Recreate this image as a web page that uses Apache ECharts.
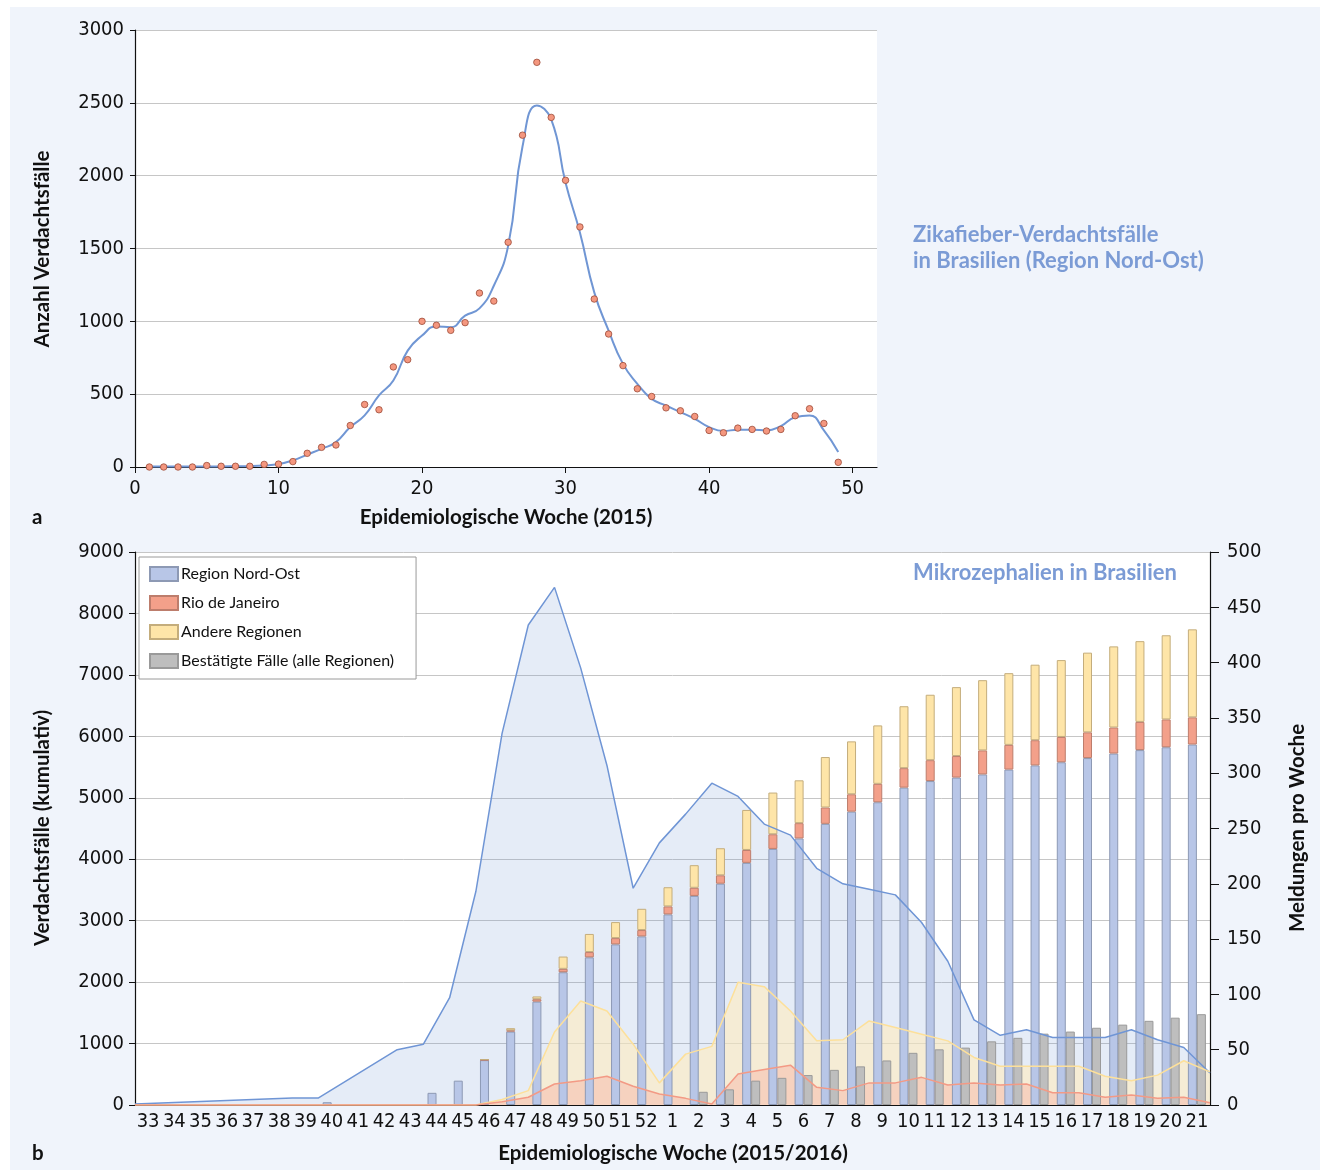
<!DOCTYPE html>
<html><head><meta charset="utf-8">
<script src="https://cdn.jsdelivr.net/npm/echarts@6/dist/echarts.min.js"></script>
<style>
html,body{margin:0;padding:0;background:#fff;}
#bg{position:absolute;left:10px;top:7px;width:1310px;height:1163px;background:#f0f4fb;}
#c{position:absolute;left:0;top:0;width:1327px;height:1170px;}
</style>
</head><body><div id="bg"></div><div id="c"></div>
<script>
// ---- Panel a: Zika suspected cases, Region Nord-Ost, 2015 ----
const zikaWeeks = [1,2,3,4,5,6,7,8,9,10,11,12,13,14,15,16,17,18,19,20,21,22,23,24,25,26,27,28,29,30,31,32,33,34,35,36,37,38,39,40,41,42,43,44,45,46,47,48,49];
const zikaCases = [0,0,0,0,10,5,5,5,18,20,37,94,135,151,285,429,393,687,737,1000,973,938,991,1194,1139,1543,2278,2778,2400,1968,1648,1153,913,696,537,484,406,386,347,251,235,267,258,247,258,352,400,299,32];
const zikaTrend = [3,3,3,3,4,4,5,6,10,20,45,85,125,171,274,354,491,594,799,902,965,960,1039,1089,1244,1518,2200,2482,2386,1952,1610,1199,936,708,571,468,422,377,331,274,247,256,256,251,281,342,354,251,103];
const zikaTicks = [0,10,20,30,40,50];

// ---- Panel b: microcephaly ----
const weekLabels = ['33','34','35','36','37','38','39','40','41','42','43','44','45','46','47','48','49','50','51','52','1','2','3','4','5','6','7','8','9','10','11','12','13','14','15','16','17','18','19','20','21'];
// cumulative (left axis)
const cumNordOst = [null,null,null,null,null,null,null,45,null,null,null,198,396,730,1195,1682,2160,2403,2614,2744,3102,3403,3602,3941,4168,4338,4576,4774,4927,5165,5272,5329,5380,5459,5527,5578,5646,5720,5776,5822,5867];
const cumRio     = [null,null,null,null,null,null,null,null,null,null,null,null,null,5,20,40,56,86,102,103,130,132,136,210,238,249,266,283,300,317,340,350,391,402,410,412,419,424,459,453,442];
const cumAndere  = [null,null,null,null,null,null,null,null,null,null,null,null,null,10,35,45,200,295,261,346,312,368,441,651,679,697,821,861,951,1008,1065,1122,1143,1167,1229,1251,1297,1320,1314,1370,1432];
const cumBestaetigt = [null,null,null,null,null,null,null,null,null,null,null,null,null,null,null,null,null,null,null,null,null,215,255,396,442,487,572,629,725,849,906,934,1036,1093,1161,1195,1257,1308,1370,1421,1478];
// reports per week (right axis); first value = position on the week grid (week boundary index)
const weeklyNordOst = [[0,1],[6,6.4],[7,6.4],[10,50],[11,55],[12,97],[13,193],[14,336],[15,434],[16,468],[17,395],[18,307],[19,196],[20,237],[21,263],[22,291],[23,279],[24,254],[25,244],[26,214],[27,200],[28,195],[29,190],[30,165],[31,130],[32,77],[33,63],[34,68],[35,61],[36,61],[37,61],[38,68],[39,59],[40,52],[41,29]];
const weeklyAndere  = [[0,0],[13,0],[14,5],[15,13],[16,66],[17,94],[18,85],[19,55],[20,20],[21,46],[22,53],[23,111],[24,107],[25,85],[26,58],[27,59],[28,76],[29,70],[30,64],[31,58],[32,43],[33,35],[34,35],[35,35],[36,35],[37,26],[38,22],[39,27],[40,40],[41,30]];
const weeklyRio     = [[0,0],[13,0],[14,3],[15,7],[16,19],[17,22],[18,26],[19,17],[20,10],[21,6],[22,1],[23,28],[24,32],[25,36],[26,16],[27,13],[28,20],[29,20],[30,25],[31,18],[32,20],[33,18],[34,19],[35,11],[36,11],[37,7],[38,9],[39,6],[40,7],[41,2]];

const tickFont = "'Liberation Sans Narrow','DejaVu Sans Condensed',sans-serif";
const titleFont = "Lato,'Noto Sans',sans-serif";
const gridLine = {show:true, lineStyle:{color:'#c6c6c6', width:1}};
const axisLineBlack = {show:true, lineStyle:{color:'#111', width:1.2}};
const plain = v => String(v);

const chart = echarts.init(document.getElementById('c'), null, {renderer:'canvas'});

function txt(x, y, text, opt) {
  return Object.assign({type:'text', x:x, y:y, style:Object.assign({text:text, fill:'#111', font:'bold 20.5px ' + titleFont, textAlign:'center', textVerticalAlign:'middle'}, (opt && opt.style) || {})}, (opt && opt.el) || {});
}
const blueTitle = {textAlign:'left', fill:'#7b9bd5', font:'bold 22px ' + titleFont};

chart.setOption({
  animation:false,
  backgroundColor:'transparent',
  grid:[
    {left:135, top:30, width:742, height:437, show:true, backgroundColor:'#fff', borderWidth:0},
    {left:135, top:552, width:1075, height:553, show:true, backgroundColor:'#fff', borderWidth:0}
  ],
  xAxis:[
    {gridIndex:0, type:'value', min:0, max:51.7,
      axisLine:axisLineBlack, splitLine:{show:false},
      axisTick:{show:true, inside:false, length:6, lineStyle:{color:'#111'}, customValues:zikaTicks},
      axisLabel:{customValues:zikaTicks, formatter:plain, color:'#111', fontSize:20, fontFamily:tickFont, margin:12}},
    {gridIndex:1, type:'category', data:weekLabels, boundaryGap:true,
      axisLine:axisLineBlack, axisTick:{show:false},
      axisLabel:{interval:0, color:'#111', fontSize:20, fontFamily:tickFont, margin:7}},
    {gridIndex:1, type:'value', min:0, max:41, show:false}
  ],
  yAxis:[
    {gridIndex:0, type:'value', min:0, max:3000, interval:500,
      axisLine:axisLineBlack, axisTick:{show:true, length:5, lineStyle:{color:'#111'}},
      splitLine:gridLine, axisLabel:{formatter:plain, color:'#111', fontSize:20, fontFamily:tickFont, margin:11}},
    {gridIndex:1, type:'value', min:0, max:9000, interval:1000, position:'left',
      axisLine:axisLineBlack, axisTick:{show:true, length:6, lineStyle:{color:'#111'}},
      splitLine:gridLine, axisLabel:{formatter:plain, color:'#111', fontSize:20, fontFamily:tickFont, margin:11}},
    {gridIndex:1, type:'value', min:0, max:500, interval:50, position:'right',
      axisLine:axisLineBlack, axisTick:{show:true, length:9, lineStyle:{color:'#111'}},
      splitLine:{show:false}, axisLabel:{formatter:plain, color:'#111', fontSize:20, fontFamily:tickFont, margin:17}}
  ],
  legend:{
    orient:'vertical', left:139, top:557, selectedMode:false,
    data:['Region Nord-Ost','Rio de Janeiro','Andere Regionen','Bestätigte Fälle (alle Regionen)'],
    itemWidth:28, itemHeight:14, itemGap:11, icon:'rect',
    backgroundColor:'#fff', borderColor:'#9a9a9a', borderWidth:1, borderRadius:0,
    padding:[8,22,9,10],
    textStyle:{fontSize:16, fontFamily:titleFont, color:'#111', lineHeight:18, padding:[0,0,0,-2]}
  },
  graphic:[
    txt(913, 235, 'Zikafieber-Verdachtsfälle', {style:blueTitle}),
    txt(913, 261, 'in Brasilien (Region Nord-Ost)', {style:blueTitle}),
    txt(913, 573, 'Mikrozephalien in Brasilien', {style:blueTitle}),
    txt(42, 249, 'Anzahl Verdachtsfälle', {el:{rotation:Math.PI/2}}),
    txt(506, 517, 'Epidemiologische Woche (2015)'),
    txt(32, 517, 'a', {style:{textAlign:'left'}}),
    txt(42, 828, 'Verdachtsfälle (kumulativ)', {el:{rotation:Math.PI/2}}),
    txt(1297, 828, 'Meldungen pro Woche', {el:{rotation:Math.PI/2}}),
    txt(673, 1153, 'Epidemiologische Woche (2015/2016)'),
    txt(32, 1153, 'b', {style:{textAlign:'left'}})
  ],
  series:[
    {type:'line', xAxisIndex:0, yAxisIndex:0, data:zikaWeeks.map((w,i)=>[w, zikaTrend[i]]),
      smooth:0.5, showSymbol:false, lineStyle:{color:'#7096d4', width:2}, z:3, silent:true},
    {type:'scatter', xAxisIndex:0, yAxisIndex:0, data:zikaWeeks.map((w,i)=>[w, zikaCases[i]]),
      symbolSize:6.5, itemStyle:{color:'#f4977f', borderColor:'#9c4b38', borderWidth:0.8, opacity:1}, z:4, silent:true},

    // weekly report areas (behind bars)
    {type:'line', xAxisIndex:2, yAxisIndex:2, data:weeklyNordOst, showSymbol:false,
      lineStyle:{width:0, opacity:0}, areaStyle:{color:'rgba(112,150,212,0.18)', opacity:1}, z:1, silent:true},
    {type:'line', xAxisIndex:2, yAxisIndex:2, data:weeklyAndere, showSymbol:false,
      lineStyle:{width:0, opacity:0}, areaStyle:{color:'rgba(255,237,190,0.6)', opacity:1}, z:1, silent:true},
    {type:'line', xAxisIndex:2, yAxisIndex:2, data:weeklyRio, showSymbol:false,
      lineStyle:{width:0, opacity:0}, areaStyle:{color:'rgba(248,180,165,0.45)', opacity:1}, z:1, silent:true},

    // cumulative bars
    {name:'Region Nord-Ost', type:'bar', xAxisIndex:1, yAxisIndex:1, stack:'cum', barWidth:9, barGap:'0%',
      data:cumNordOst, itemStyle:{color:'#b8c6e7', borderColor:'#8d99b4', borderWidth:1}, z:2},
    {name:'Rio de Janeiro', type:'bar', xAxisIndex:1, yAxisIndex:1, stack:'cum', barWidth:9, barGap:'0%',
      data:cumRio, itemStyle:{color:'#f3a08a', borderColor:'#bd7d6c', borderWidth:1}, z:2},
    {name:'Andere Regionen', type:'bar', xAxisIndex:1, yAxisIndex:1, stack:'cum', barWidth:9, barGap:'0%',
      data:cumAndere, itemStyle:{color:'#fee5a8', borderColor:'#c4ad7c', borderWidth:1}, z:2},
    {name:'Bestätigte Fälle (alle Regionen)', type:'bar', xAxisIndex:1, yAxisIndex:1, barWidth:9, barGap:'0%',
      data:cumBestaetigt, itemStyle:{color:'#bebebe', borderColor:'#9a9a9a', borderWidth:1}, z:2},

    // weekly report lines (above bars)
    {type:'line', xAxisIndex:2, yAxisIndex:2, data:weeklyNordOst, showSymbol:false,
      lineStyle:{color:'#6f95d5', width:1.5}, z:3, silent:true},
    {type:'line', xAxisIndex:2, yAxisIndex:2, data:weeklyAndere, showSymbol:false,
      lineStyle:{color:'#fde09a', width:1.5}, z:3, silent:true},
    {type:'line', xAxisIndex:2, yAxisIndex:2, data:weeklyRio, showSymbol:false,
      lineStyle:{color:'#f39a85', width:1.5}, z:3, silent:true}
  ]
});
</script>
</body></html>
